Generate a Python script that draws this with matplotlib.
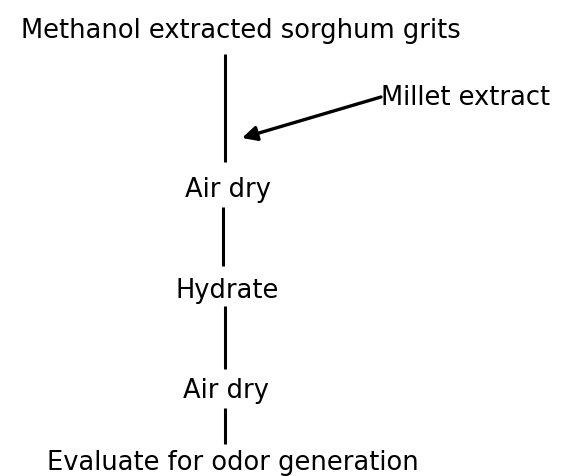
import matplotlib.pyplot as plt

# flowchart steps, placed in image pixel coordinates (x centre, baseline y)
steps = ['Methanol extracted sorghum grits', 'Air dry', 'Hydrate', 'Air dry',
         'Evaluate for odor generation']
step_x = [241, 228, 227, 226, 233]
step_y = [38, 197, 298, 398, 470]

# connecting lines (x, y top, y bottom)
line_x = [225, 223, 225, 225]
line_top = [55, 208, 307, 409]
line_bot = [163, 267, 370, 445]

side_label = 'Millet extract'
side_xy = (381, 98)
side_base = 105
arrow_tip = (242, 139)

plt.rcParams['font.family'] = ['DejaVu Sans']
fig = plt.figure(figsize=(5.67, 4.77), dpi=100)
ax = fig.add_axes([0, 0, 1, 1])
ax.set_xlim(0, 567)
ax.set_ylim(477, 0)
ax.axis('off')

for t, x, y in zip(steps, step_x, step_y):
    ax.text(x, y, t, ha='center', va='baseline', fontsize=18.5)

for x, y0, y1 in zip(line_x, line_top, line_bot):
    ax.plot([x, x], [y0, y1], color='black', lw=2.2, solid_capstyle='butt')

ax.annotate('', xy=arrow_tip, xytext=side_xy,
            arrowprops=dict(arrowstyle='-|>', color='black', lw=2.4,
                            mutation_scale=22, shrinkA=0, shrinkB=0))
ax.text(side_xy[0], side_base, side_label, ha='left', va='baseline', fontsize=18.5)

fig.savefig('out.png', dpi=100)
